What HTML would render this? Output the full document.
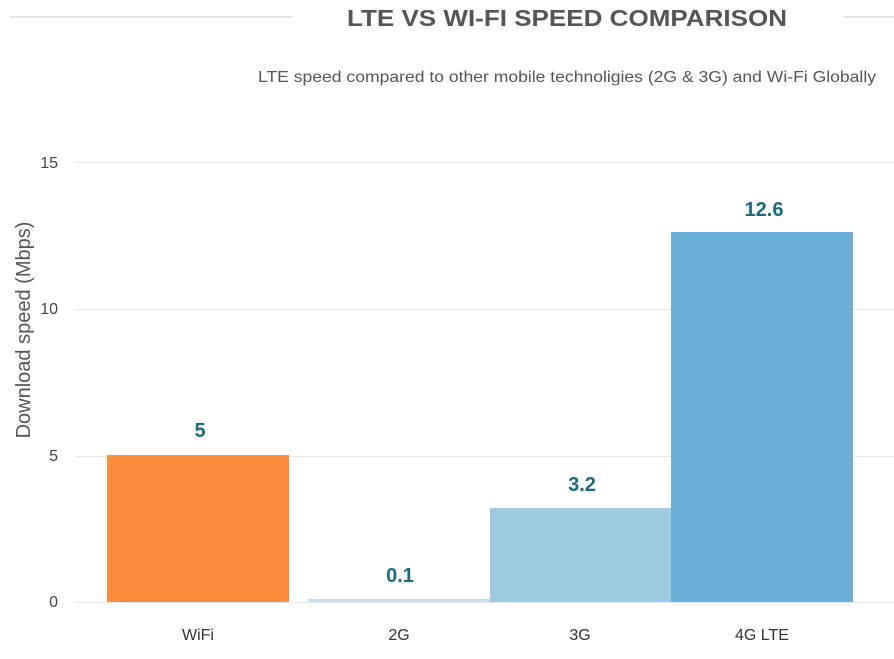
<!DOCTYPE html>
<html><head><style>
body{margin:0;background:#fff;}
</style></head><body>
<svg width="894" height="654" xmlns="http://www.w3.org/2000/svg" font-family="Liberation Sans, Arial, sans-serif">
<rect width="894" height="654" fill="#fff"/>
<line x1="10" y1="17" x2="293" y2="17" stroke="#ccc" stroke-width="1"/>
<line x1="843" y1="17" x2="894" y2="17" stroke="#ccc" stroke-width="1"/>
<text x="567" y="26" text-anchor="middle" font-size="23" font-weight="bold" fill="#555" textLength="440" lengthAdjust="spacingAndGlyphs">LTE VS WI-FI SPEED COMPARISON</text>
<text x="876" y="82" text-anchor="end" font-size="16" fill="#555" textLength="618" lengthAdjust="spacingAndGlyphs">LTE speed compared to other mobile technoligies (2G &amp; 3G) and Wi-Fi Globally</text>
<g stroke="#e8e8e8" stroke-width="1">
<line x1="75" y1="162.5" x2="894" y2="162.5"/>
<line x1="75" y1="309.5" x2="894" y2="309.5"/>
<line x1="75" y1="456.5" x2="894" y2="456.5"/>
<line x1="75" y1="602.5" x2="894" y2="602.5"/>
</g>
<g font-size="16" fill="#444" text-anchor="end">
<text x="58" y="168">15</text>
<text x="58" y="314">10</text>
<text x="58" y="461">5</text>
<text x="58" y="607">0</text>
</g>
<text transform="translate(30,330) rotate(-90)" text-anchor="middle" font-size="20" fill="#555">Download speed (Mbps)</text>
<rect x="107" y="455" width="182" height="147" fill="#fc8b3c"/>
<rect x="308" y="599" width="182" height="3" fill="#c8dcea"/>
<rect x="490" y="508" width="181" height="94" fill="#9ecae1"/>
<rect x="671" y="232" width="182" height="370" fill="#6baed6"/>
<g font-size="20" font-weight="bold" fill="#1b6b80" text-anchor="middle">
<text x="200" y="437">5</text>
<text x="400" y="582">0.1</text>
<text x="582" y="491">3.2</text>
<text x="764" y="216">12.6</text>
</g>
<g font-size="16" fill="#333" text-anchor="middle">
<text x="198" y="640">WiFi</text>
<text x="399" y="640">2G</text>
<text x="580" y="640">3G</text>
<text x="762" y="640">4G LTE</text>
</g>
</svg>
</body></html>
